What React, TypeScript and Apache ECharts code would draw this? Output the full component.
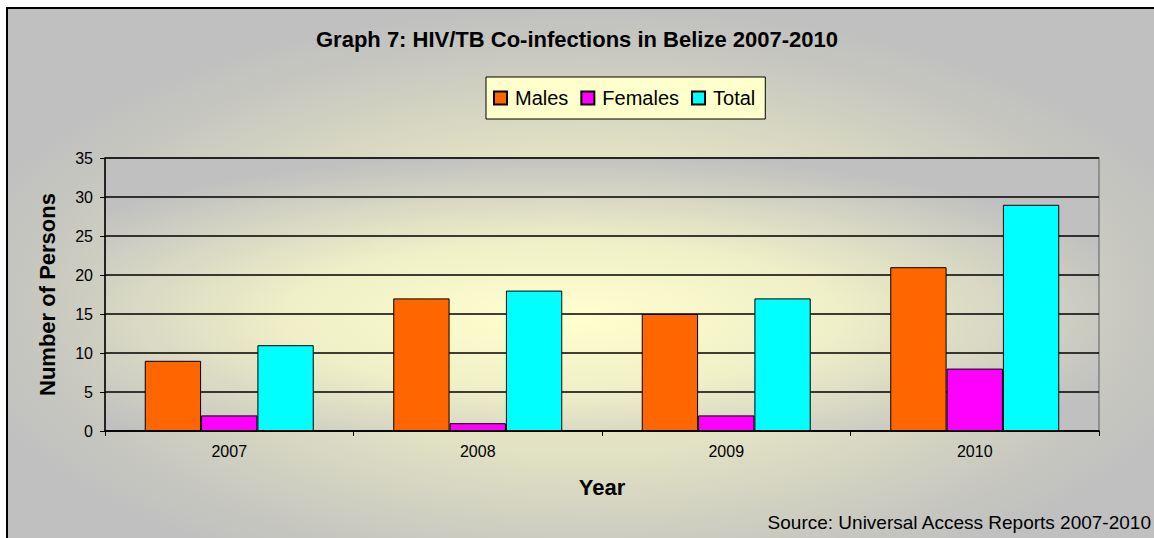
import React, { useEffect, useRef } from "react";
import * as echarts from "echarts";

const categories = ["2007", "2008", "2009", "2010"];
const males = [9, 17, 15, 21];
const females = [2, 1, 2, 8];
const total = [11, 18, 17, 29];
const yTicks = { min: 0, max: 35, interval: 5 };

const FONT = "'Liberation Sans', Arial, sans-serif";

export default function App() {
  const ref = useRef<HTMLDivElement>(null);
  useEffect(() => {
    if (!ref.current) return;
    const chart = echarts.init(ref.current, null, { renderer: "svg" });
    const gl = 105, gt = 158, gw = 994, gh = 273;
    const psx = 3.3;
    const osx = 2.2;
    const ow = 1160, oh = 540;
    chart.setOption({
      animation: false,
      textStyle: { fontFamily: FONT, color: "#000" },
      title: {
        text: "Graph 7: HIV/TB Co-infections in Belize 2007-2010",
        left: "center",
        top: 23,
        textStyle: { fontFamily: FONT, fontSize: 22, fontWeight: "bold", color: "#000" },
      },
      legend: {
        left: 486,
        top: 77,
        itemWidth: 13,
        itemHeight: 13,
        itemGap: 12,
        icon: "rect",
        padding: [11, 10, 11, 7],
        backgroundColor: "#ffffcc",
        borderColor: "#000",
        borderWidth: 1,
        textStyle: { fontFamily: FONT, fontSize: 20, color: "#000", padding: [0, 0, 0, 3] },
        data: ["Males", "Females", "Total"],
      },
      grid: {
        left: gl,
        top: gt,
        width: gw,
        height: gh,
        show: true,
        backgroundColor: "transparent",
        borderColor: "#808080",
        borderWidth: 1.5,
      },
      xAxis: {
        type: "category",
        data: categories,
        name: "Year",
        nameLocation: "middle",
        nameGap: 45,
        nameTextStyle: { fontFamily: FONT, fontSize: 22, fontWeight: "bold", color: "#000" },
        axisLine: { show: true, lineStyle: { color: "#000", width: 1.5 } },
        axisTick: { show: true, length: 5, lineStyle: { color: "#000" } },
        axisLabel: { fontFamily: FONT, fontSize: 16, color: "#000", margin: 12 },
      },
      yAxis: {
        type: "value",
        min: yTicks.min,
        max: yTicks.max,
        interval: yTicks.interval,
        name: "Number of Persons",
        nameLocation: "middle",
        nameGap: 47,
        nameTextStyle: { fontFamily: FONT, fontSize: 22, fontWeight: "bold", color: "#000" },
        axisLine: { show: true, lineStyle: { color: "#000", width: 1.5 } },
        axisTick: { show: true, length: 5, lineStyle: { color: "#000" } },
        axisLabel: { fontFamily: FONT, fontSize: 16, color: "#000", margin: 12 },
        splitLine: { show: true, lineStyle: { color: "#000", width: 1.5 } },
      },
      graphic: [
        {
          type: "rect",
          z: -20,
          silent: true,
          x: 6,
          y: 7,
          scaleX: osx,
          shape: { x: 0, y: 0, width: ow / osx, height: oh },
          style: {
            fill: new echarts.graphic.RadialGradient(0.5, 0.55, 0.55, [
              { offset: 0, color: "#f6f6cc" },
              { offset: 0.5, color: "#e2e2c4" },
              { offset: 0.85, color: "#c8c8c0" },
              { offset: 1, color: "#c0c0c0" },
            ]),
          },
        },
        {
          type: "polyline",
          z: -19,
          silent: true,
          shape: { points: [[7, 545], [7, 8], [1160, 8]] },
          style: { stroke: "#000", lineWidth: 2, fill: "none" },
        },
        {
          type: "rect",
          z: -18,
          silent: true,
          x: gl,
          y: gt,
          scaleX: psx,
          shape: { x: 0, y: 0, width: gw / psx, height: gh },
          style: {
            fill: new echarts.graphic.RadialGradient(0.46, 0.58, 0.6, [
              { offset: 0, color: "#ffffcf" },
              { offset: 0.45, color: "#f0f0c8" },
              { offset: 1, color: "#c0c0c0" },
            ]),
          },
        },
        {
          type: "text",
          right: 2,
          top: 513,
          style: {
            text: "Source: Universal Access Reports 2007-2010",
            font: `19px ${FONT}`,
            fill: "#000",
          },
        },
      ],
      series: [
        {
          name: "Males",
          type: "bar",
          data: males,
          barGap: "0%",
          barCategoryGap: "32%",
          itemStyle: { color: "#ff6600", borderColor: "#000", borderWidth: 1 },
        },
        {
          name: "Females",
          type: "bar",
          data: females,
          barGap: "0%",
          barCategoryGap: "32%",
          itemStyle: { color: "#ff00ff", borderColor: "#000", borderWidth: 1 },
        },
        {
          name: "Total",
          type: "bar",
          data: total,
          barGap: "0%",
          barCategoryGap: "32%",
          itemStyle: { color: "#00ffff", borderColor: "#000", borderWidth: 1 },
        },
      ],
    });
    return () => chart.dispose();
  }, []);
  return (
    <div
      ref={ref}
      style={{ position: "absolute", left: 0, top: 0, width: 1154, height: 538 }}
    />
  );
}
